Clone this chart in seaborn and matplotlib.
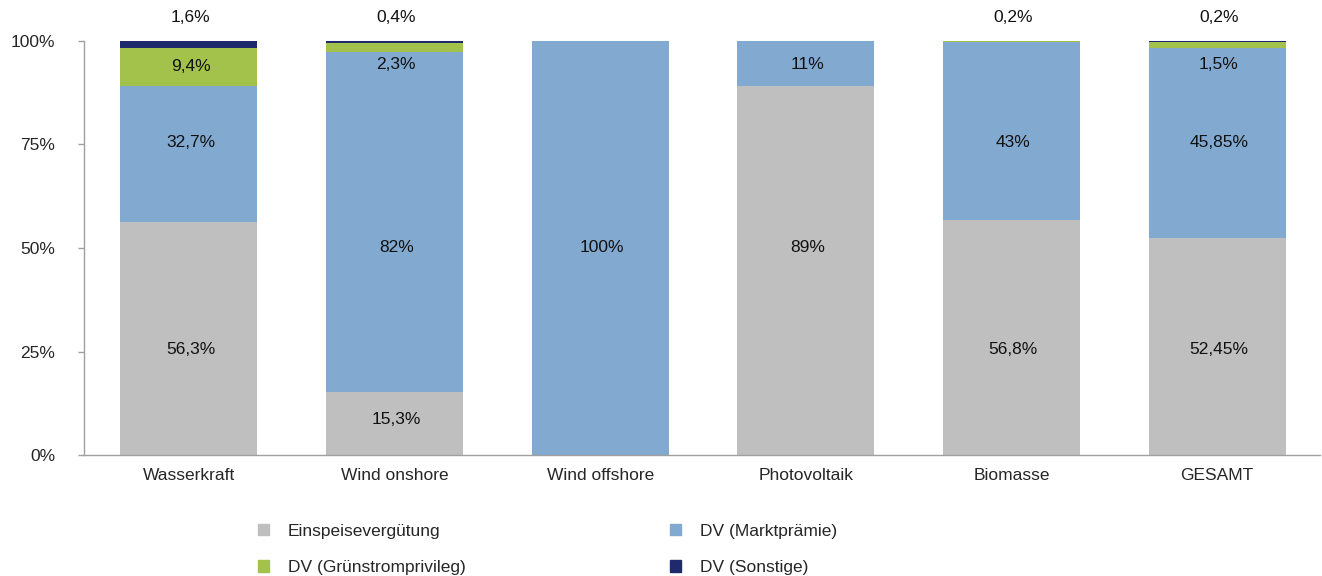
import matplotlib
matplotlib.use("Agg")
import matplotlib.pyplot as plt
import matplotlib.patches as mpatches
import numpy as np
import pandas as pd
import seaborn as sns

# Anteile je Energieträger nach Vergütungsform (in %)
categories = ["Wasserkraft", "Wind onshore", "Wind offshore", "Photovoltaik", "Biomasse", "GESAMT"]
einspeise = [56.3, 15.3, 0.0, 89.0, 56.8, 52.45]
marktpraemie = [32.7, 82.0, 100.0, 11.0, 43.0, 45.85]
gruenstrom = [9.4, 2.3, 0.0, 0.0, 0.2, 1.5]
sonstige = [1.6, 0.4, 0.0, 0.0, 0.0, 0.2]

series_names = ["Einspeisevergütung", "DV (Marktprämie)", "DV (Grünstromprivileg)", "DV (Sonstige)"]
series_values = [einspeise, marktpraemie, gruenstrom, sonstige]
colors = ["#BFBFBF", "#82A9CF", "#A3C24B", "#1E2A6C"]

# Beschriftungen: (Kategorie-Index, Serie-Index, Text, y-Position der Beschriftung)
labels = [
    (0, 0, "56,3%", 25.4), (0, 1, "32,7%", 75.4), (0, 2, "9,4%", 93.7), (0, 3, "1,6%", 105.6),
    (1, 0, "15,3%", 8.7), (1, 1, "82%", 50.2), (1, 2, "2,3%", 94.4), (1, 3, "0,4%", 105.6),
    (2, 1, "100%", 50.2),
    (3, 0, "89%", 50.2), (3, 1, "11%", 94.4),
    (4, 0, "56,8%", 25.4), (4, 1, "43%", 75.4), (4, 2, "0,2%", 105.6),
    (5, 0, "52,45%", 25.4), (5, 1, "45,85%", 75.4), (5, 2, "1,5%", 94.4), (5, 3, "0,2%", 105.6),
]

sns.set_theme(style="white")
plt.rcParams["font.family"] = ["Liberation Sans", "DejaVu Sans"]

FS = 12.5

fig = plt.figure(figsize=(13.22, 5.76), dpi=100)
ax = fig.add_axes([0.0635, 0.21, 0.935, 0.719])

df = pd.DataFrame({"Kategorie": categories})
cum = np.zeros(len(categories))
cums = []
for vals in series_values:
    cum = cum + np.array(vals)
    cums.append(cum.copy())

# Gestapelte Balken: von der obersten Summe nach unten zeichnen
for i in reversed(range(len(series_values))):
    d = df.copy()
    d["Wert"] = cums[i]
    sns.barplot(data=d, x="Kategorie", y="Wert", color=colors[i], width=0.665,
                saturation=1, edgecolor="none", linewidth=0, ax=ax, errorbar=None)

for ci, si, txt, ypos in labels:
    ax.text(ci + 0.008, ypos, txt, ha="center", va="center", fontsize=FS, color="#111111",
            clip_on=False)

ax.set_xlim(-0.51, len(categories) - 0.5)
ax.set_ylim(0, 100)
ax.set_yticks([0, 25, 50, 75, 100])
ax.set_yticklabels(["0%", "25%", "50%", "75%", "100%"], fontsize=FS)
ax.set_xlabel("")
ax.set_ylabel("")
ax.tick_params(axis="x", which="major", length=0, labelsize=FS, pad=9)
ax.set_xticks(np.arange(-0.5, len(categories)), minor=True)
ax.tick_params(axis="x", which="minor", length=4.5, color="#A0A0A0", width=1, direction="out")
ax.tick_params(axis="y", length=4.5, color="#A0A0A0", width=1, direction="out", pad=16)
ax.yaxis.set_tick_params(left=True)
for s in ["top", "right"]:
    ax.spines[s].set_visible(False)
for s in ["left", "bottom"]:
    ax.spines[s].set_color("#A0A0A0")
    ax.spines[s].set_linewidth(1)
ax.grid(False)

handles = [mpatches.Patch(color=colors[k], label=series_names[k]) for k in [0, 2, 1, 3]]
fig.legend(handles=handles, ncol=2, loc="upper left", bbox_to_anchor=(0.183, 0.118),
           frameon=False, fontsize=FS, handlelength=0.65, handleheight=0.65,
           handletextpad=1.1, columnspacing=11.75, labelspacing=1.25)

fig.savefig("out.png", dpi=100)
